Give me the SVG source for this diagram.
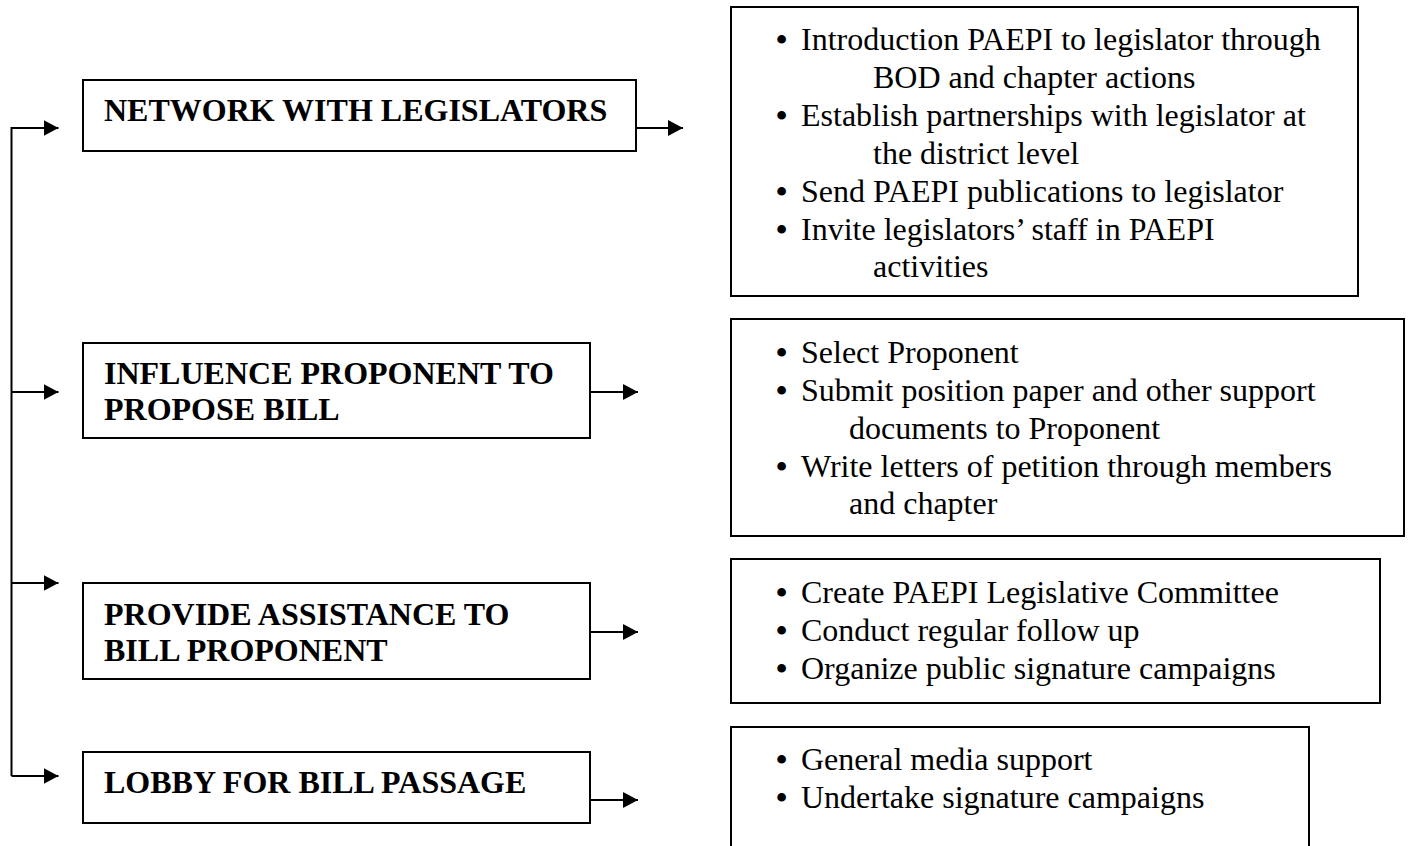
<svg xmlns="http://www.w3.org/2000/svg" width="1408" height="846" viewBox="0 0 1408 846">
<style>
.box{fill:#fff;stroke:#000;stroke-width:2}
.h{font-family:"Liberation Serif","Times New Roman",serif;font-weight:bold;font-size:32px;fill:#000}
.t{font-family:"Liberation Serif","Times New Roman",serif;font-size:32px;fill:#000}
.b{font-weight:bold}
.c{fill:none;stroke:#000;stroke-width:2}
</style>
<defs>
<marker id="arr" markerUnits="userSpaceOnUse" markerWidth="16" markerHeight="16" refX="15" refY="8" orient="auto">
<path d="M0,0 L15,8 L0,16 Z" fill="#000"/>
</marker>
</defs>
<rect width="1408" height="846" fill="#fff"/>
<g id="connectors">
<path class="c" d="M11.5,776 V128 H58.5" marker-end="url(#arr)"/>
<path class="c" d="M11.5,392 H58.5" marker-end="url(#arr)"/>
<path class="c" d="M11.5,583 H58.5" marker-end="url(#arr)"/>
<path class="c" d="M11.5,776 H58.5" marker-end="url(#arr)"/>
<path class="c" d="M636,128 H683" marker-end="url(#arr)"/>
<path class="c" d="M590,392 H638" marker-end="url(#arr)"/>
<path class="c" d="M590,632 H638" marker-end="url(#arr)"/>
<path class="c" d="M590,800 H638" marker-end="url(#arr)"/>
</g>
<g id="network">
<rect class="box" x="83" y="80" width="553" height="71"/>
<text class="h" x="104" y="121">NETWORK WITH LEGISLATORS</text>
</g>
<g id="influence">
<rect class="box" x="83" y="343" width="507" height="95"/>
<text class="h" x="104" y="384">INFLUENCE PROPONENT TO</text>
<text class="h" x="104" y="420">PROPOSE BILL</text>
</g>
<g id="assistance">
<rect class="box" x="83" y="583" width="507" height="96"/>
<text class="h" x="104" y="625">PROVIDE ASSISTANCE TO</text>
<text class="h" x="104" y="661">BILL PROPONENT</text>
</g>
<g id="lobby">
<rect class="box" x="83" y="752" width="507" height="71"/>
<text class="h" x="104" y="793">LOBBY FOR BILL PASSAGE</text>
</g>
<g id="network-actions">
<rect class="box" x="731" y="7" width="627" height="289"/>
<text class="t" y="50"><tspan class="b" x="776">•</tspan><tspan x="801">Introduction PAEPI to legislator through</tspan></text>
<text class="t" x="873" y="88">BOD and chapter actions</text>
<text class="t" y="126"><tspan class="b" x="776">•</tspan><tspan x="801">Establish partnerships with legislator at</tspan></text>
<text class="t" x="873" y="164">the district level</text>
<text class="t" y="202"><tspan class="b" x="776">•</tspan><tspan x="801">Send PAEPI publications to legislator</tspan></text>
<text class="t" y="240"><tspan class="b" x="776">•</tspan><tspan x="801">Invite legislators’ staff in PAEPI</tspan></text>
<text class="t" x="873" y="277">activities</text>
</g>
<g id="influence-actions">
<rect class="box" x="731" y="319" width="673" height="217"/>
<text class="t" y="363"><tspan class="b" x="776">•</tspan><tspan x="801">Select Proponent</tspan></text>
<text class="t" y="401"><tspan class="b" x="776">•</tspan><tspan x="801">Submit position paper and other support</tspan></text>
<text class="t" x="849" y="439">documents to Proponent</text>
<text class="t" y="477"><tspan class="b" x="776">•</tspan><tspan x="801">Write letters of petition through members</tspan></text>
<text class="t" x="849" y="514">and chapter</text>
</g>
<g id="assistance-actions">
<rect class="box" x="731" y="559" width="649" height="144"/>
<text class="t" y="603"><tspan class="b" x="776">•</tspan><tspan x="801">Create PAEPI Legislative Committee</tspan></text>
<text class="t" y="641"><tspan class="b" x="776">•</tspan><tspan x="801">Conduct regular follow up</tspan></text>
<text class="t" y="679"><tspan class="b" x="776">•</tspan><tspan x="801">Organize public signature campaigns</tspan></text>
</g>
<g id="lobby-actions">
<rect class="box" x="731" y="727" width="578" height="130"/>
<text class="t" y="770"><tspan class="b" x="776">•</tspan><tspan x="801">General media support</tspan></text>
<text class="t" y="808"><tspan class="b" x="776">•</tspan><tspan x="801">Undertake signature campaigns</tspan></text>
</g>
</svg>
